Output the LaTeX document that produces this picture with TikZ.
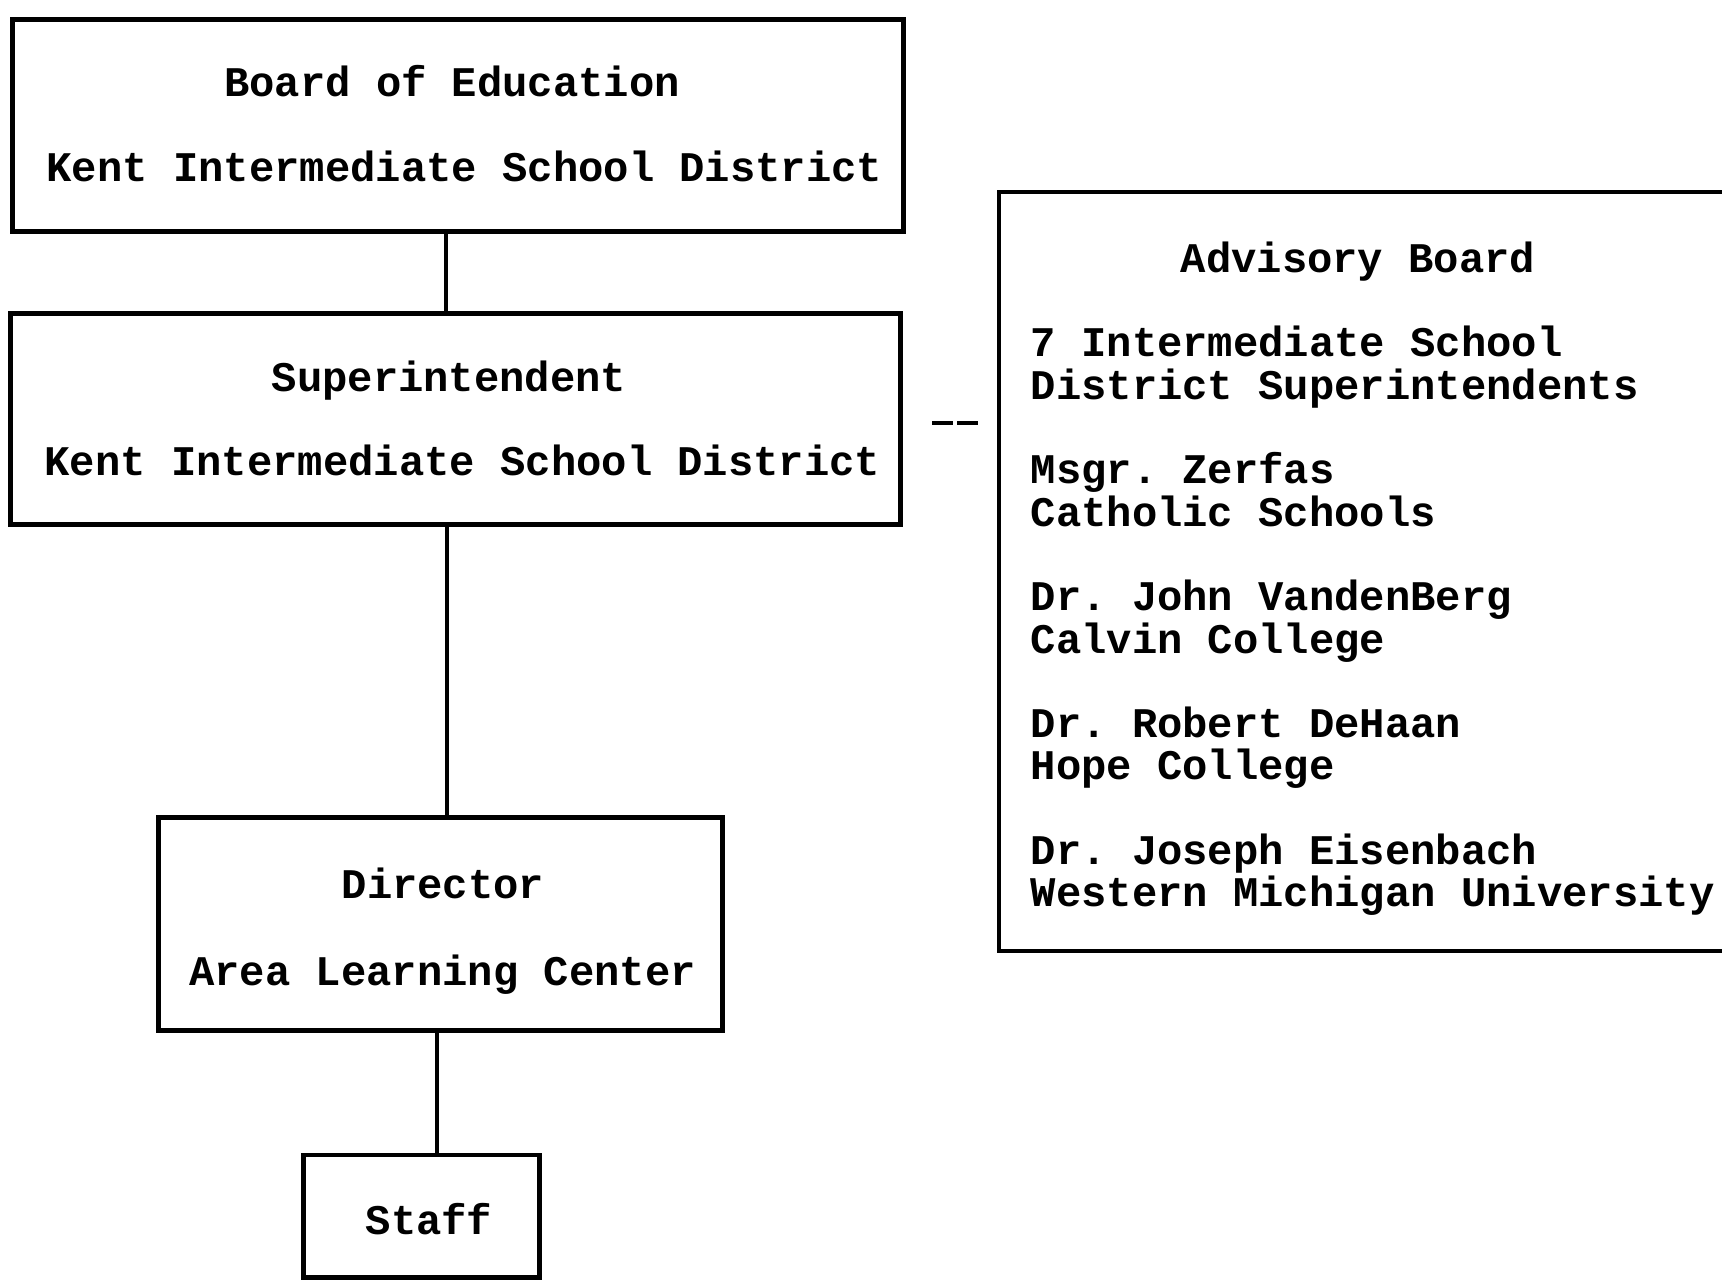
\documentclass[tikz,border=0pt]{standalone}
\usepackage{fontspec}
\setmainfont{Liberation Mono}
\frenchspacing
\begin{document}
\frenchspacing
\begin{tikzpicture}[x=0.01cm,y=-0.01cm,
  box/.style={draw, rectangle, inner sep=0, line width=1.4pt},
  txt/.style={font=\bfseries\fontsize{12}{12}\selectfont, inner sep=0, anchor=base},
  ltxt/.style={txt, anchor=base west},
  link/.style={line width=1.4pt},
  dashlink/.style={line width=1.3pt, dash pattern=on 0.21cm off 0.04cm}]
\useasboundingbox (0,0) rectangle (1722,1280);
% boxes
\node[box, minimum width=8.90cm, minimum height=2.11cm] (board) at (458,125.5) {};
\node[box, minimum width=8.89cm, minimum height=2.10cm] (super) at (455.5,419) {};
\node[box, minimum width=5.63cm, minimum height=2.12cm] (dir) at (440.5,924) {};
\node[box, minimum width=2.35cm, minimum height=1.22cm] (staff) at (421.5,1216) {};
% texts
\node[txt] (t1) at (452,97) {Board of Education};
\node[txt] (t2) at (464.5,182) {Kent Intermediate School District};
\node[txt] (t3) at (449,392) {Superintendent};
\node[txt] (t4) at (462.5,476) {Kent Intermediate School District};
\node[txt] (t5) at (443,899) {Director};
\node[txt] (t6) at (442.5,985) {Area Learning Center};
\node[txt] (t7) at (429,1234) {Staff};
% connectors
\coordinate (c1) at (446,0);
\coordinate (c2) at (447,0);
\coordinate (c3) at (437,0);
\draw[link] (board.south -| c1) -- (super.north -| c1);
\draw[link] (super.south -| c2) -- (dir.north -| c2);
\draw[link] (dir.south -| c3) -- (staff.north -| c3);
% advisory board (open on the right)
\coordinate (advTR) at (1722,192);
\coordinate (advTL) at (999,192);
\coordinate (advBL) at (999,951);
\coordinate (advBR) at (1722,951);
\draw[link, line join=miter] (advTR) -- (advTL) -- (advBL) -- (advBR);
\node[txt] (a0) at (1358,273) {Advisory Board};
\node[ltxt] (a1) at (1030,357) {7 Intermediate School};
\node[ltxt] (a2) at (1030,399.3) {District Superintendents};
\node[ltxt] (a3) at (1030,483.9) {Msgr. Zerfas};
\node[ltxt] (a4) at (1030,526.2) {Catholic Schools};
\node[ltxt] (a5) at (1030,610.8) {Dr. John VandenBerg};
\node[ltxt] (a6) at (1030,653.1) {Calvin College};
\node[ltxt] (a7) at (1030,737.7) {Dr. Robert DeHaan};
\node[ltxt] (a8) at (1030,780) {Hope College};
\node[ltxt] (a9) at (1030,864.6) {Dr. Joseph Eisenbach};
\node[ltxt] (a10) at (1030,906.9) {Western Michigan University};
% dashed link
\coordinate (dA) at (932,423);
\coordinate (dB) at (978,423);
\draw[dashlink] (dA) -- (dB);
\end{tikzpicture}
\end{document}
